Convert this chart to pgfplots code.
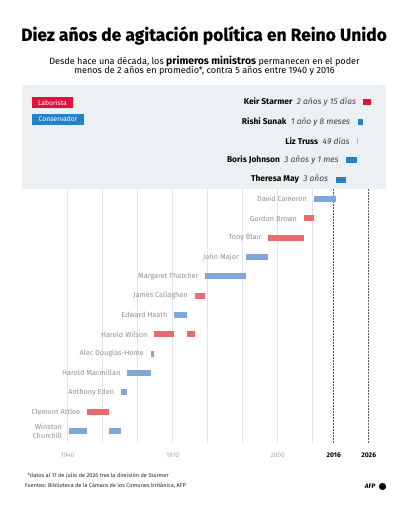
\documentclass[border=0pt]{standalone}
\usepackage{fontspec}
\setmainfont{Fira Sans}
\newfontfamily\heavyfont[BoldFeatures={FakeBold=0.6}]{Fira Sans}
\usepackage{pgfplots}
\pgfplotsset{compat=1.18}
\definecolor{labP}{HTML}{E2103F}
\definecolor{conP}{HTML}{2880C8}
\definecolor{labH}{HTML}{E96B6E}
\definecolor{conH}{HTML}{80A7DB}
\definecolor{panel}{HTML}{EDF0F2}
\definecolor{grid}{HTML}{E6E6E6}
\definecolor{namegray}{HTML}{919191}
\newcommand{\pmbar}[4]{\addplot[draw=#1, line width=5.8pt, line cap=butt, forget plot] coordinates {(#2,#4) (#3,#4)};}
\begin{document}
\begin{tikzpicture}
\path[use as bounding box] (0,0) rectangle (409pt,512pt);
% title
\node[font=\fontsize{17.4}{19}\selectfont\heavyfont\bfseries] at (204pt,{512pt-35.5pt}) {Diez años de agitación política en Reino Unido};
\node[font=\fontsize{9.1}{10.3}\selectfont, align=center] at (204.5pt,{512pt-66pt}) {Desde hace una década, los {\fontsize{10.4}{10}\selectfont\bfseries primeros ministros} permanecen en el poder\\[-1.8pt] menos de 2 años en promedio*, contra 5 años entre 1940 y 2016};
\begin{axis}[
  scale only axis, width=364pt, height=358pt,
  at={(22.2pt,427pt)}, anchor=north west,
  xmin=1927, xmax=2031, ymin=-0.895, ymax=17.62, y dir=reverse,
  hide axis, clip=false,
]
% panel
\fill[panel] (axis cs:1927,-0.895) rectangle (axis cs:2031,4.49);
% grid
\foreach \yr in {1940,1950,...,2010} {
  \edef\tmp{\noexpand\draw[grid, line width=0.5pt] (axis cs:\yr,4.49) -- (axis cs:\yr,17.62);}
  \tmp
}
\draw[gray!70!black, line width=0.5pt, dash pattern=on 1.5pt off 1.5pt] (axis cs:2016,4.49) -- (axis cs:2016,17.62);
\draw[gray!70!black, line width=0.5pt, dash pattern=on 1.5pt off 1.5pt] (axis cs:2026,4.49) -- (axis cs:2026,17.62);
% bars
\pmbar{labP}{2024.51}{2026.55}{0}
\pmbar{conP}{2022.82}{2024.51}{1}
\pmbar{conP!50}{2022.68}{2022.82}{2}
\pmbar{conP}{2019.56}{2022.68}{3}
\pmbar{conP}{2016.54}{2019.56}{4}
\pmbar{conH}{2010.36}{2016.54}{5}
\pmbar{labH}{2007.49}{2010.36}{6}
\pmbar{labH}{1997.34}{2007.49}{7}
\pmbar{conH}{1990.91}{1997.34}{8}
\pmbar{conH}{1979.34}{1990.91}{9}
\pmbar{labH}{1976.26}{1979.34}{10}
\pmbar{conH}{1970.47}{1974.17}{11}
\pmbar{labH}{1964.79}{1970.47}{12}
\pmbar{labH}{1974.17}{1976.26}{12}
\pmbar{conH}{1963.80}{1964.79}{13}
\pmbar{conH}{1957.03}{1963.80}{14}
\pmbar{conH}{1955.27}{1957.03}{15}
\pmbar{labH}{1945.57}{1951.82}{16}
\pmbar{conH}{1940.37}{1945.57}{17}
\pmbar{conH}{1951.82}{1955.27}{17}
% recent labels
\tikzset{rl/.style={anchor=east, xshift=-4pt, font=\fontsize{8.4}{10}\selectfont, text=black}}
\node[rl] at (axis cs:2024.51,0) {\textbf{Keir Starmer}\ \ {\itshape\color{black!75}2 años y 15 días}};
\node[rl] at (axis cs:2022.82,1) {\textbf{Rishi Sunak}\ \ {\itshape\color{black!75}1 año y 8 meses}};
\node[rl] at (axis cs:2022.68,2) {\textbf{Liz Truss}\ \ {\itshape\color{black!75}49 días}};
\node[rl] at (axis cs:2019.56,3) {\textbf{Boris Johnson}\ \ {\itshape\color{black!75}3 años y 1 mes}};
\node[rl] at (axis cs:2016.54,4) {\textbf{Theresa May}\ \ {\itshape\color{black!75}3 años}};
% historical labels
\tikzset{hl/.style={anchor=east, xshift=-3.5pt, font=\fontsize{7.3}{8.4}\selectfont, text=namegray, align=right}}
\node[hl] at (axis cs:2010.36,5) {David Cameron};
\node[hl] at (axis cs:2007.49,6) {Gordon Brown};
\node[hl] at (axis cs:1997.34,7) {Tony Blair};
\node[hl] at (axis cs:1990.91,8) {John Major};
\node[hl] at (axis cs:1979.34,9) {Margaret Thatcher};
\node[hl] at (axis cs:1976.26,10) {James Callaghan};
\node[hl] at (axis cs:1970.47,11) {Edward Heath};
\node[hl] at (axis cs:1964.79,12) {Harold Wilson};
\node[hl] at (axis cs:1963.80,13) {Alec Douglas-Home};
\node[hl] at (axis cs:1957.03,14) {Harold Macmillan};
\node[hl] at (axis cs:1955.27,15) {Anthony Eden};
\node[hl] at (axis cs:1945.57,16) {Clement Attlee};
\node[hl] at (axis cs:1940.37,17) {Winston\\Churchill};
% x labels
\tikzset{xl/.style={font=\fontsize{6.6}{8}\selectfont}}
\node[xl, text=namegray!80] at (axis cs:1940,18.24) {1940};
\node[xl, text=namegray!80] at (axis cs:1970,18.24) {1970};
\node[xl, text=namegray!80] at (axis cs:2000,18.24) {2000};
\node[xl, font=\fontsize{6.8}{8}\selectfont\bfseries] at (axis cs:2016,18.24) {2016};
\node[xl, font=\fontsize{6.8}{8}\selectfont\bfseries] at (axis cs:2026,18.24) {2026};
\end{axis}
% legend
\fill[labP] (31.7pt,{512pt-97.3pt}) rectangle (73.3pt,{512pt-108pt});
\node[text=white, font=\fontsize{6.8}{8}\selectfont] at (52.5pt,{512pt-102.6pt}) {Laborista};
\fill[conP] (31.7pt,{512pt-114pt}) rectangle (84.3pt,{512pt-124.7pt});
\node[text=white, font=\fontsize{6.8}{8}\selectfont] at (58pt,{512pt-119.3pt}) {Conservador};
% footnotes
\node[anchor=west, font=\fontsize{5.6}{7}\selectfont, text=black!85] at (24pt,{512pt-475.5pt}) {*datos al 17 de julio de 2026 tras la dimisión de Starmer};
\node[anchor=west, font=\fontsize{5.6}{7}\selectfont, text=black!85] at (21.5pt,{512pt-486pt}) {Fuentes: Biblioteca de la Cámara de los Comunes británica, AFP};
\node[anchor=east, font=\fontsize{6.4}{7}\selectfont\heavyfont\bfseries\itshape] at (379pt,{512pt-486.5pt}) {AFP};
\fill[black] (382.5pt,{512pt-486.5pt}) circle (3.6pt);
\end{tikzpicture}
\end{document}
